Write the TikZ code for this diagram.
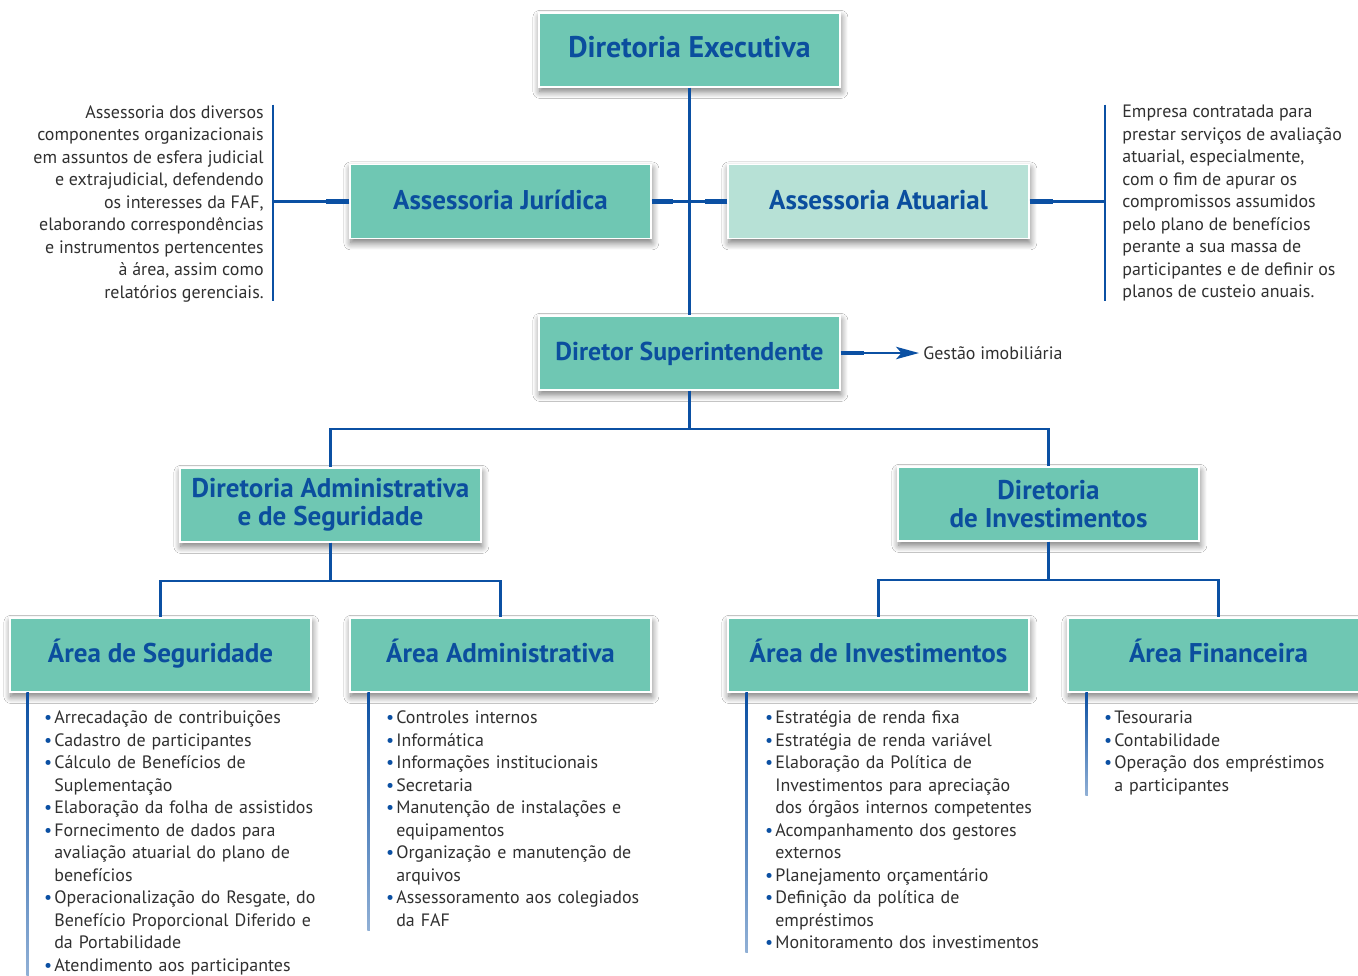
\documentclass[tikz,border=0pt]{standalone}
\usepackage{fontspec}
\setmainfont{PT Sans}
\usetikzlibrary{positioning}
\usetikzlibrary{calc}
\usetikzlibrary{arrows.meta}
\usetikzlibrary{shadows.blur}

\definecolor{boxgreen}{HTML}{6FC7B3}
\definecolor{boxpale}{HTML}{B7E1D6}
\definecolor{titleblue}{HTML}{0B4E9E}
\definecolor{lineblue}{HTML}{0B50A3}
\definecolor{bodygray}{HTML}{303030}

\newcommand{\bodyfont}{\fontsize{10.2pt}{12.8pt}\selectfont}
\newcommand{\titlefont}{\bfseries\fontsize{15.4pt}{15.9pt}\selectfont}
\newcommand{\bitem}[1]{\par\noindent\llap{\textcolor{lineblue}{\textbullet}\hspace{1.2pt}}#1}

\begin{document}
\begin{tikzpicture}[x=0.02cm, y=-0.02cm,
    orgbox/.style={rectangle, fill=boxgreen, draw=white, line width=0.8pt,
        minimum width=6.02cm, minimum height=1.48cm, inner sep=0pt,
        align=center, font=\titlefont, text=titleblue,
        blur shadow={shadow xshift=0.5pt, shadow yshift=-2.5pt, shadow blur radius=4pt, shadow blur steps=8, shadow opacity=55}},
    oneline/.style={text height=11pt, text depth=2pt},
    conn/.style={draw=lineblue, line width=1.35pt},
    stub/.style={draw=lineblue, line width=2.4pt},
    listbar/.style={top color=lineblue, bottom color=lineblue!45!white},
    desc/.style={font=\bodyfont, text=bodygray, inner sep=0pt},
    items/.style={font=\bodyfont, text=bodygray, inner sep=0pt, anchor=north west, text width=8cm, align=left}]

    \fill[white] (0,0) rectangle (1358,975);
    \useasboundingbox (0,0) rectangle (1358,975);

    % boxes
    \node[orgbox, oneline, font=\bfseries\fontsize{17pt}{18pt}\selectfont] (dexec) at (689.5,50) {Diretoria Executiva};
    \node[orgbox, oneline] (ajur) at (500.5,201.5) {Assessoria Jurídica};
    \node[orgbox, oneline, fill=boxpale] (aatu) at (878.5,201.5) {Assessoria Atuarial};
    \node[orgbox, oneline, font=\bfseries\fontsize{14.7pt}{15.9pt}\selectfont] (dsup) at (689.5,353) {Diretor Superintendente};
    \node[orgbox] (dadm) at (330.5,505) {Diretoria Administrativa\\e de Seguridade};
    \node[orgbox] (dinv) at (1048.5,504) {Diretoria\\de Investimentos};
    \node[orgbox, oneline] (aseg) at (160.5,655) {Área de Seguridade};
    \node[orgbox, oneline] (aadm) at (500.5,655) {Área Administrativa};
    \node[orgbox, oneline] (ainv) at (878.5,655) {Área de Investimentos};
    \node[orgbox, oneline] (afin) at (1218.5,655) {Área Financeira};

    % side texts
    \node[desc, anchor=north east, align=right] (jtext) at (264,105) {Assessoria dos diversos\\componentes organizacionais\\em assuntos de esfera judicial\\e extrajudicial, defendendo\\os interesses da FAF,\\elaborando correspondências\\e instrumentos pertencentes\\à área, assim como\\relatórios gerenciais.};
    \node[desc, anchor=north west, align=left] (atext) at (1122,105) {Empresa contratada para\\prestar serviços de avaliação\\atuarial, especialmente,\\com o fim de apurar os\\compromissos assumidos\\pelo plano de benefícios\\perante a sua massa de\\participantes e de definir os\\planos de custeio anuais.};
    \node[desc, anchor=west, inner sep=2.3pt] (gestao) at (919,353) {Gestão imobiliária};

    % lists
    \node[items] (lseg) at (54,701) {%
        \bitem{Arrecadação de contribuições}
        \bitem{Cadastro de participantes}
        \bitem{Cálculo de Benefícios de\\Suplementação}
        \bitem{Elaboração da folha de assistidos}
        \bitem{Fornecimento de dados para\\avaliação atuarial do plano de\\benefícios}
        \bitem{Operacionalização do Resgate, do\\Benefício Proporcional Diferido e\\da Portabilidade}
        \bitem{Atendimento aos participantes}};
    \node[items] (ladm) at (396,701) {%
        \bitem{Controles internos}
        \bitem{Informática}
        \bitem{Informações institucionais}
        \bitem{Secretaria}
        \bitem{Manutenção de instalações e\\equipamentos}
        \bitem{Organização e manutenção de\\arquivos}
        \bitem{Assessoramento aos colegiados\\da FAF}};
    \node[items] (linv) at (775,701) {%
        \bitem{Estratégia de renda fixa}
        \bitem{Estratégia de renda variável}
        \bitem{Elaboração da Política de\\Investimentos para apreciação\\dos órgãos internos competentes}
        \bitem{Acompanhamento dos gestores\\externos}
        \bitem{Planejamento orçamentário}
        \bitem{Definição da política de\\empréstimos}
        \bitem{Monitoramento dos investimentos}};
    \node[items] (lfin) at (1114,701) {%
        \bitem{Tesouraria}
        \bitem{Contabilidade}
        \bitem{Operação dos empréstimos\\a participantes}};

    % list bars
    \shade[listbar] ($(aseg.south west)+(17,0)$) rectangle ++(2.6,283);
    \shade[listbar] ($(aadm.south west)+(18,0)$) rectangle ++(2.6,238);
    \shade[listbar] ($(ainv.south west)+(18,0)$) rectangle ++(2.6,260);
    \shade[listbar] ($(afin.south west)+(18,0)$) rectangle ++(2.6,103);

    % connectors
    \coordinate (jbar) at (273,201.5);
    \coordinate (abar) at (1105,201.5);
    \draw[conn] (dexec) -- (dsup);
    \draw[conn] (ajur) -- (aatu);
    \draw[conn] (ajur.west) -- (jbar);
    \draw[conn] (aatu.east) -- (abar);
    \draw[conn] ($(jbar)+(0,-97)$) -- ($(jbar)+(0,99)$);
    \draw[conn] ($(abar)+(0,-97)$) -- ($(abar)+(0,99)$);
    \draw[stub] (ajur.east) -- ++(21,0);
    \draw[stub] (aatu.west) -- ++(-22,0);
    \draw[stub] (ajur.west) -- ++(-23,0);
    \draw[stub] (aatu.east) -- ++(23,0);
    \draw[stub] (dsup.east) -- ++(23,0);
    \draw[conn, -{Stealth[length=13pt, width=7pt, inset=3pt]}] (dsup.east) -- (gestao.west);

    \draw[conn] (dsup.south) -- ++(0,38) -| (dadm.north);
    \draw[conn] (dsup.south) -- ++(0,38) -| (dinv.north);
    \draw[conn] (dadm.south) -- ++(0,38) -| (aseg.north);
    \draw[conn] (dadm.south) -- ++(0,38) -| (aadm.north);
    \draw[conn] (dinv.south) -- ++(0,38) -| (ainv.north);
    \draw[conn] (dinv.south) -- ++(0,38) -| (afin.north);
\end{tikzpicture}
\end{document}
